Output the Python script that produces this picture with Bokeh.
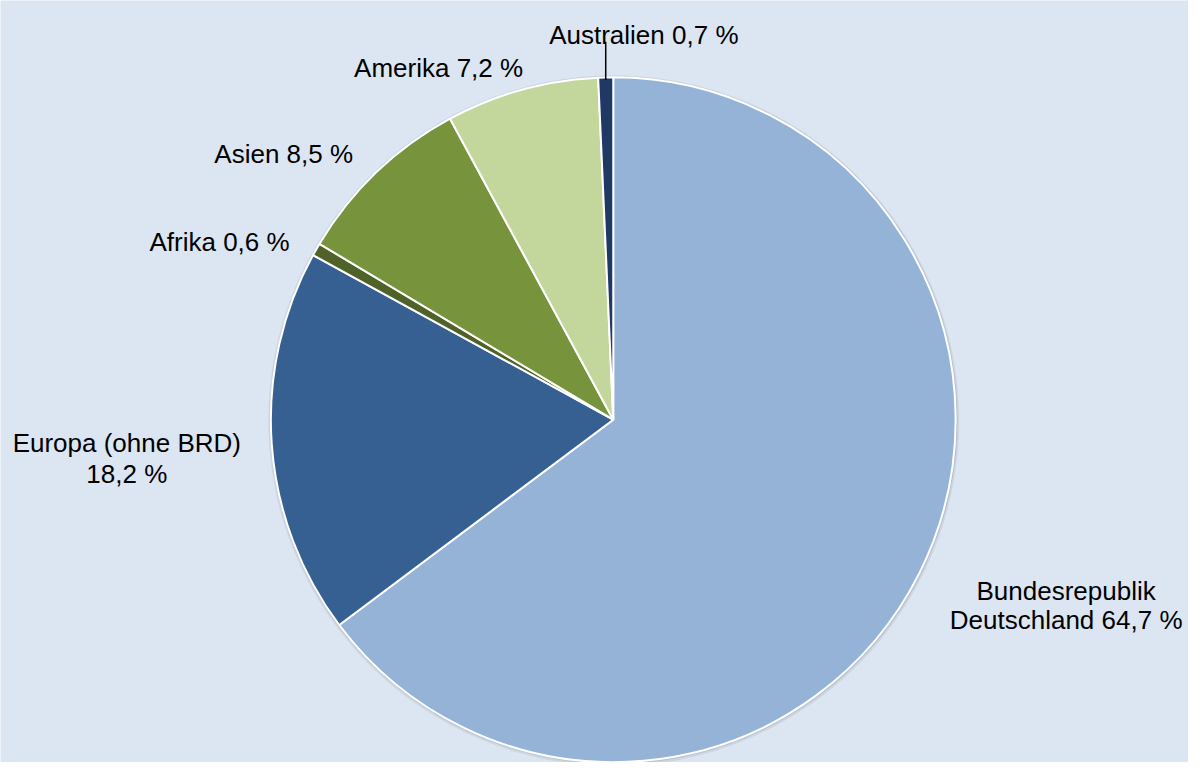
import math
from bokeh.plotting import figure
from bokeh.models import Range1d, ColumnDataSource
from bokeh.core.properties import value
from bokeh.embed import file_html
from bokeh.resources import INLINE

# ---- data ----
categories = ["Bundesrepublik\nDeutschland", "Europa (ohne BRD)", "Afrika", "Asien", "Amerika", "Australien"]
shares = [64.7, 18.2, 0.6, 8.5, 7.2, 0.7]
label_sep = [" ", "\n", " ", " ", " ", " "]
colors = ["#95B3D7", "#376092", "#4F6228", "#77933C", "#C3D69B", "#1F3864"]

# ---- layout (coordinates expressed in reference-image pixels) ----
BG = "#DCE6F2"
W, H = 1188, 762
IMG_W, IMG_H = 1204, 778
cx_img, cy_img, R = 621, 428, 347
cx, cy = cx_img, IMG_H - cy_img
# per label line: (center x, baseline y) in reference pixels
label_lines_pos = [
    [(1080, 603), (1080, 633)],
    [(128, 452), (128, 483)],
    [(222, 247)],
    [(287, 157)],
    [(444, 69)],
    [(652, 35)],
]
leader_top_img = 42
FONT = "Liberation Sans"
FSIZE = "26px"

p = figure(width=W, height=H, output_backend="svg", toolbar_location=None,
           x_range=Range1d(0, IMG_W), y_range=Range1d(0, IMG_H),
           min_border=0, match_aspect=False)
p.axis.visible = False
p.grid.visible = False
p.outline_line_color = None
p.background_fill_color = BG
p.border_fill_color = BG

# soft shadow around pie
p.circle(x=[cx + 0.5], y=[cy - 1.0], radius=R + 3, fill_color="#9DA8B4", fill_alpha=0.25, line_color=None)
p.circle(x=[cx + 0.5], y=[cy - 0.5], radius=R + 1.5, fill_color="#8E99A5", fill_alpha=0.35, line_color=None)

total = sum(shares)
starts, ends, mids = [], [], []
cum = 0.0
for s in shares:
    a0 = math.pi / 2 - 2 * math.pi * (cum + s) / total
    a1 = math.pi / 2 - 2 * math.pi * cum / total
    starts.append(a0)
    ends.append(a1)
    mids.append((a0 + a1) / 2)
    cum += s

src = ColumnDataSource(dict(x=[cx] * len(shares), y=[cy] * len(shares),
                            start=starts, end=ends, color=colors))
p.wedge(x="x", y="y", radius=R, start_angle="start", end_angle="end",
        direction="anticlock", fill_color="color", line_color="white",
        line_width=2, source=src)

# labels
tx, ty, tt = [], [], []
for name, s, sep, poss in zip(categories, shares, label_sep, label_lines_pos):
    txt = name + sep + (f"{s:.1f}".replace(".", ",")) + " %"
    for line, (lx, ly) in zip(txt.split("\n"), poss):
        tx.append(lx)
        ty.append(IMG_H - ly)
        tt.append(line)
p.text(x=tx, y=ty, text=tt, text_font=value(FONT), text_font_size=value(FSIZE),
       text_color="#000000", text_align="center", text_baseline="alphabetic")

# leader line for the small Australien slice
i = categories.index("Australien")
lx = cx + R * math.cos(mids[i])
ly = cy + R * math.sin(mids[i])
p.segment(x0=[lx], y0=[ly], x1=[lx], y1=[IMG_H - leader_top_img], line_color="#000000", line_width=1.5)

html = file_html(p, INLINE)
html = html.replace("<body>", f'<body style="background-color:{BG};">', 1)
open("out.html", "w").write(html)
